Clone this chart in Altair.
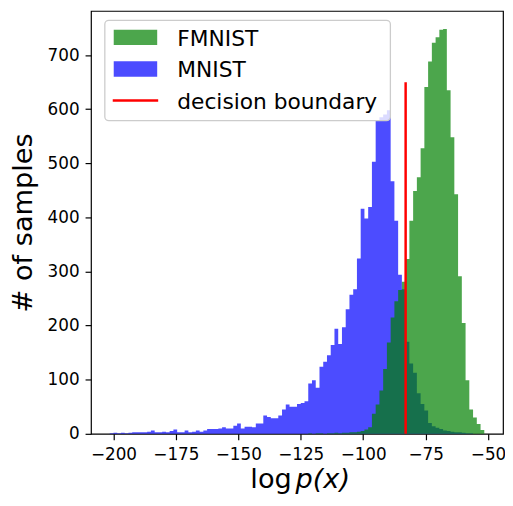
import altair as alt
import pandas as pd

# ---------------- data ----------------
BIN_START = -201.5
BIN_WIDTH = 1.5

mnist_counts = [
    1, 2, 1, 2, 1, 2, 3, 3, 3, 3,
    4, 6, 3, 3, 4, 3, 5, 8, 3, 3,
    6, 3, 4, 6,
    4, 6, 9, 9, 9, 10, 12, 10, 10, 15,
    19, 10, 13, 13, 12, 19, 19, 34, 31, 29,
    29, 34, 45, 54, 50, 50,
    55, 57, 60, 93, 99, 85, 124, 133, 145, 164,
    194, 166, 197, 230, 257, 267, 324,
    416, 398, 419, 503, 580, 585, 590, 598, 467, 394, 294,
    267, 170, 130, 113, 75, 55, 43, 20, 14, 11,
    9, 6, 5, 4, 3, 3, 2, 1, 1, 0,
    0, 0,
]

fmnist_counts = (
    [0] * 53
    + [1, 0, 1, 1, 0, 1, 1, 2, 1, 2, 2, 3, 3]
    + [4, 5, 8, 12, 37, 54, 80, 120, 169, 215, 245, 266, 281]
    + [323, 394, 449, 474, 528, 641, 688, 723, 733, 747,
       748, 635, 548, 443, 291, 205, 99, 45, 30, 18, 7]
)

x_ticks = [-200, -175, -150, -125, -100, -75, -50]
y_ticks = [0, 100, 200, 300, 400, 500, 600, 700]
x_domain = [-209, -44]
y_domain = [0, 781.6]

boundary_x = [-83.0]
boundary_top = [650]

legend_labels = ["FMNIST", "MNIST", "decision boundary"]
series_colors = {"FMNIST": "green", "MNIST": "blue", "decision boundary": "red"}
x_title_parts = ["log", "p(x)"]
y_title = "# of samples"

FONT = "DejaVu Sans"

# ---------------- tables ----------------
edges = [BIN_START + BIN_WIDTH * i for i in range(len(mnist_counts) + 1)]


def step_table(counts):
    return pd.DataFrame({"x": edges, "y": list(counts) + [counts[-1]]})


mnist_df = step_table(mnist_counts)
fmnist_df = step_table(fmnist_counts)
rule_df = pd.DataFrame({"x": boundary_x, "y": [0], "y2": boundary_top})
one = pd.DataFrame({"k": [0]})

PLOT_W, PLOT_H = 417, 428

x_enc = alt.X(
    "x:Q",
    scale=alt.Scale(domain=x_domain, nice=False, zero=False),
    axis=alt.Axis(values=x_ticks, title=None, labelPadding=7, format="d"),
)
y_enc = alt.Y(
    "y:Q",
    scale=alt.Scale(domain=y_domain, nice=False, zero=False),
    axis=alt.Axis(
        values=y_ticks,
        title=y_title,
        labelPadding=6,
        titleAngle=270,
        titleX=-60.5,
        titleY=PLOT_H / 2,
        titleAlign="center",
        titleBaseline="alphabetic",
    ),
)

mnist_area = alt.Chart(mnist_df).mark_area(
    interpolate="step-after", color=series_colors["MNIST"], opacity=0.7
).encode(x=x_enc, y=y_enc)

fmnist_area = alt.Chart(fmnist_df).mark_area(
    interpolate="step-after", color=series_colors["FMNIST"], opacity=0.7
).encode(x=alt.X("x:Q"), y=alt.Y("y:Q"))

rule = alt.Chart(rule_df).mark_rule(
    color=series_colors["decision boundary"], strokeWidth=2.5
).encode(x=alt.X("x:Q"), y=alt.Y("y:Q"), y2="y2:Q")

# ---------------- legend (drawn as marks) ----------------
leg_frame = alt.Chart(one).mark_rect(
    cornerRadius=4, fill="white", fillOpacity=0.8, stroke="#cccccc", strokeWidth=1.3
).encode(x=alt.value(14), x2=alt.value(303), y=alt.value(9.5), y2=alt.value(111))

leg_patch1 = alt.Chart(one).mark_rect(
    color=series_colors["FMNIST"], opacity=0.7
).encode(x=alt.value(23), x2=alt.value(67), y=alt.value(19), y2=alt.value(34.5))

leg_patch2 = alt.Chart(one).mark_rect(
    color=series_colors["MNIST"], opacity=0.7
).encode(x=alt.value(23), x2=alt.value(67), y=alt.value(51), y2=alt.value(66.5))

leg_line = alt.Chart(one).mark_rule(
    color=series_colors["decision boundary"], strokeWidth=2.5
).encode(x=alt.value(22), x2=alt.value(68), y=alt.value(90.7))

leg_texts = [
    alt.Chart(one).mark_text(
        align="left", baseline="alphabetic", font=FONT, fontSize=22, color="black"
    ).encode(x=alt.value(87.3), y=alt.value(yy), text=alt.value(lab))
    for lab, yy in zip(legend_labels, [35.3, 67, 99.3])
]

# ---------------- x title: log p(x) ----------------
xt_log = alt.Chart(one).mark_text(
    align="left", baseline="alphabetic", font=FONT, fontSize=27.5, color="black"
).encode(x=alt.value(161.3), y=alt.value(483), text=alt.value(x_title_parts[0]))

xt_px = alt.Chart(one).mark_text(
    align="left", baseline="alphabetic", font=FONT, fontSize=27.5,
    fontStyle="italic", color="black"
).encode(x=alt.value(207), y=alt.value(483), text=alt.value(x_title_parts[1]))

chart = alt.layer(
    mnist_area, fmnist_area, rule,
    leg_frame, leg_patch1, leg_patch2, leg_line, *leg_texts,
    xt_log, xt_px,
).properties(
    width=PLOT_W,
    height=PLOT_H,
    autosize=alt.AutoSizeParams(type="none"),
    padding={"left": 84, "top": 0, "right": 2, "bottom": 62},
    background="white",
).configure_view(
    stroke="black", strokeWidth=1.2
).configure_axis(
    grid=False,
    domain=False,
    ticks=True,
    tickColor="black",
    tickSize=6,
    tickWidth=1.2,
    labelFont=FONT,
    labelFontSize=17,
    labelColor="black",
    titleFont=FONT,
    titleFontSize=27.5,
    titleFontWeight="normal",
    titleColor="black",
)

chart.save("out.html", embed_options={"renderer": "svg", "actions": False})
